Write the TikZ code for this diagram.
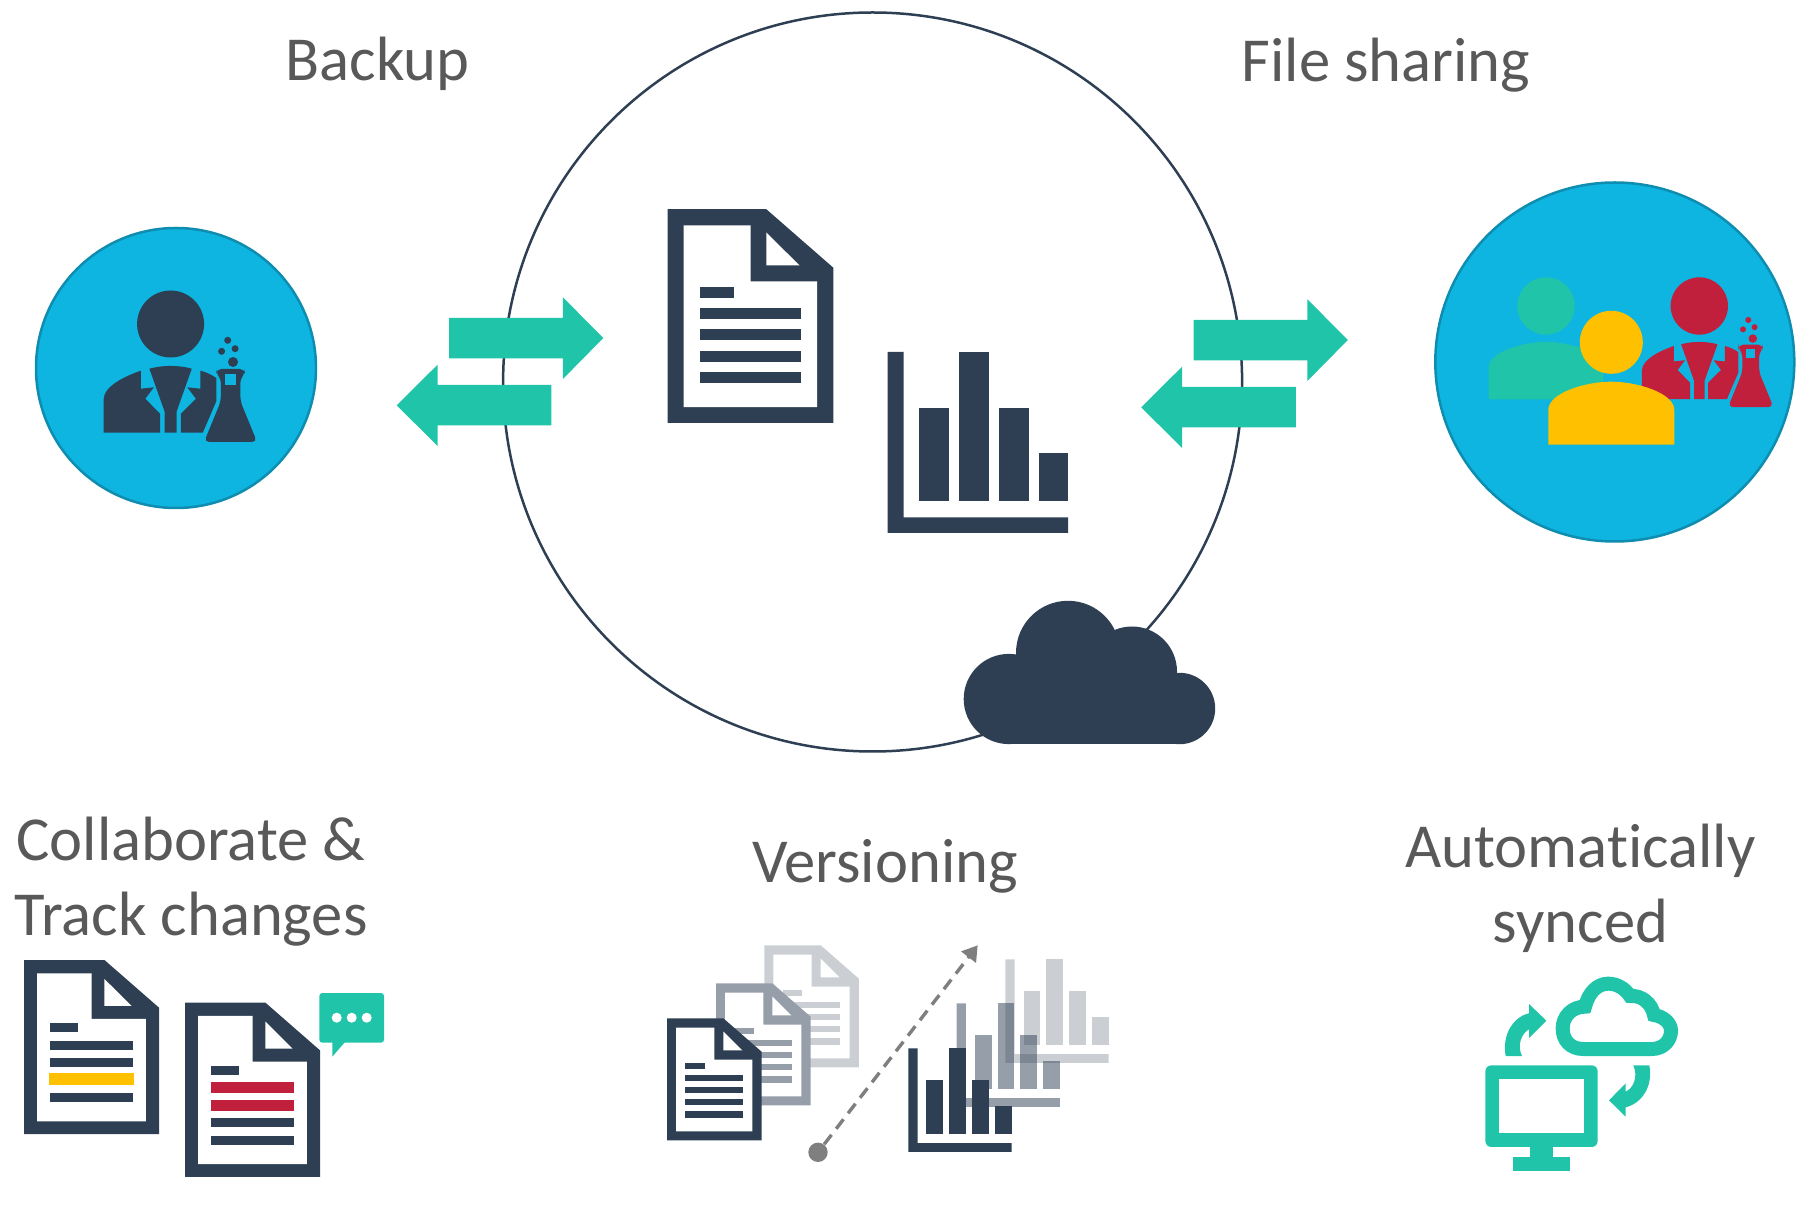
\documentclass[tikz,border=0pt]{standalone}
\usepackage{fontspec}
\setmainfont[Ligatures=NoCommon]{Carlito}
\usetikzlibrary{arrows.meta}
\definecolor{navyicon}{HTML}{2E3F53}
\definecolor{tealicon}{HTML}{20C4A8}
\definecolor{skyfill}{HTML}{0DB5E0}
\definecolor{skyline}{HTML}{0F8DB0}
\definecolor{yellowicon}{HTML}{FFC000}
\definecolor{redicon}{HTML}{C0203C}
\definecolor{textgrey}{HTML}{595959}
\definecolor{midgrey}{HTML}{969FA9}
\definecolor{lightgrey}{HTML}{CBCFD4}
\definecolor{dashgrey}{HTML}{7F7F7F}
\tikzset{
	labeltext/.style={text=textgrey,font=\fontsize{31.3}{37.6}\selectfont,inner sep=0pt,align=center},
	bluedisc/.style={fill=skyfill,draw=skyline,line width=1.25pt},
	dashline/.style={draw=dashgrey,line width=1.7pt,dash pattern=on 6pt off 3.8pt,-{Triangle[length=7.5pt,width=9pt,fill=dashgrey]}}
}
% doc page: left, top, scale, colour
\newcommand{\docicon}[4]{
	\begin{scope}[shift={(#1,#2)},scale=#3]
		\fill[#4] (0.,0.)--(98.7,0.)--(165.7,58.5)--(165.7,213.8)--(0.,213.8)--cycle;
		\fill[white] (16.,16.3)--(83.,16.3)--(83.,72.2)--(149.6,72.2)--(149.6,198.)--(16.,198.)--cycle;
		\fill[white] (98.7,23.3)--(98.7,56.3)--(132.,56.3)--cycle;
		\fill[#4] (32.,77.7) rectangle (66.8,88.5);
		\fill[#4] (32.,99.2) rectangle (133.3,110.);
		\fill[#4] (32.,120.3) rectangle (133.3,131.1);
		\fill[#4] (32.,141.7) rectangle (133.3,152.5);
		\fill[#4] (32.,163.2) rectangle (133.3,174.);
	\end{scope}
}
% bar chart: left, top, scale, opacity
\newcommand{\charticon}[4]{
	\begin{scope}[shift={(#1,#2)},scale=#3,fill opacity=#4]
		\fill[navyicon] (0.,0.)--(16.1,0.)--(16.1,165.7)--(180.5,165.7)--(180.5,181.)--(0.,181.)--cycle;
		\fill[navyicon] (31.8,56.2) rectangle (61.2,149.2);
		\fill[navyicon] (71.6,0.) rectangle (101.,149.2);
		\fill[navyicon] (111.4,56.2) rectangle (141.2,149.2);
		\fill[navyicon] (151.4,101.7) rectangle (180.5,149.2);
	\end{scope}
}
% scientist: head centre, scale, colour, background
\newcommand{\scientisticon}[5]{
	\begin{scope}[shift={(#1,#2)},scale=#3]
		\fill[#4] (0.,0.) circle [radius=33.5];
		\fill[#4] (-67.,108.7)--(-67.,75.7) .. controls (-67.,62.) and (-45.,52.) .. (-29.8,46.7)--(-29.8,64.7)--(-16.7,63.3)--(-25.3,74.7)--(-10.6,89.7)--(-10.6,108.7)--cycle;
		\fill[#4] (29.8,46.7)--(29.8,64.7)--(16.7,63.3)--(25.3,74.7)--(10.2,89.7)--(10.2,108.7)--(32.2,108.7)--(45.7,77.3)--(45.7,54.) .. controls (40.,50.) and (35.,48.) .. (29.8,46.7)--cycle;
		\fill[#4] (-21.2,44.7) .. controls (-8.,41.) and (8.,41.) .. (21.2,44.7)--(6.1,87.3)--(6.1,108.7)--(-6.1,108.7)--(-6.1,87.3)--cycle;
		\fill[#4,rounded corners=2.5pt] (33.5,118.)--(50.2,77.3)--(50.2,54.)--(45.7,49.7)--(45.7,45.)--(74.3,45.)--(74.3,49.7)--(69.8,54.)--(69.8,77.3)--(86.5,118.)--cycle;
		\fill[#5] (54.3,49.7) rectangle (64.9,60.7);
		\fill[#4] (62.4,38.) circle [radius=5.];
		\fill[#4] (51.,27.3) circle [radius=3.5];
		\fill[#4] (64.5,24.7) circle [radius=3.5];
		\fill[#4] (57.1,16.3) circle [radius=3.5];
	\end{scope}
}
% plain person: head centre, head radius, colour
\newcommand{\personicon}[4]{
	\begin{scope}[shift={(#1,#2)},scale=#3]
		\fill[#4] (0.,0.) circle [radius=1.];
		\fill[#4] (-2.,3.25)--(-2.,2.15) .. controls (-2.,1.6) and (-.8,1.25) .. (0.,1.25) .. controls (.8,1.25) and (2.,1.6) .. (2.,2.15)--(2.,3.25)--cycle;
	\end{scope}
}
% pair of arrows: shift in x, shift in y of the two
\newcommand{\arrowpair}[2]{
	\begin{scope}[shift={(#1,#2)}]
		\fill[tealicon] (449.,318.)--(562.9,318.)--(562.9,297.3)--(603.3,338.)--(562.9,379.)--(562.9,358.3)--(449.,358.3)--cycle;
		\fill[tealicon] (551.4,385.)--(437.6,385.)--(437.6,364.7)--(396.7,405.3)--(437.6,446.)--(437.6,425.3)--(551.4,425.3)--cycle;
	\end{scope}
}
\begin{document}
\begin{tikzpicture}[x=0.5pt,y=-0.5pt]
	\useasboundingbox (0.,0.) rectangle (1805.,1218.);
	% centre
	\draw[navyicon,line width=1.25pt] (872.6,382.) circle [radius=369.5];
	\docicon{667.6}{209.2}{1.}{navyicon}
	\charticon{887.6}{351.8}{1.}{1.}
	\fill[navyicon] (1008.8,699.) circle [radius=45.1];
	\fill[navyicon] (1068.,652.8) circle [radius=52.];
	\fill[navyicon] (1132.,671.5) circle [radius=45.];
	\fill[navyicon] (1179.5,708.5) circle [radius=35.7];
	\fill[navyicon] (1008.8,680.) rectangle (1179.5,744.2);
	% arrows
	\arrowpair{0.}{0.}
	\arrowpair{744.5}{2.}
	% backup
	\draw[bluedisc] (176.,368.) circle [radius=140.];
	\scientisticon{170.6}{324.}{1.}{navyicon}{skyfill}
	% file sharing
	\draw[bluedisc] (1614.8,362.) circle [radius=179.5];
	\personicon{1546.}{306.}{28.7}{tealicon}
	\scientisticon{1699.3}{306.}{.857}{redicon}{skyfill}
	\personicon{1611.3}{342.3}{31.5}{yellowicon}
	% collaborate
	\docicon{24.}{960.}{.815}{navyicon}
	\fill[yellowicon] (49.,1073.3) rectangle (134.3,1085.3);
	\docicon{185.}{1002.7}{.815}{navyicon}
	\fill[redicon] (211.,1081.7) rectangle (294.,1093.3);
	\fill[redicon] (211.,1099.7) rectangle (294.,1111.3);
	\fill[tealicon,rounded corners=1.5pt] (319.3,993.) rectangle (384.,1042.7);
	\fill[tealicon] (332.3,1042.)--(332.3,1056.7)--(345.,1042.)--cycle;
	\fill[white] (336.7,1017.7) circle [radius=5.];
	\fill[white] (351.7,1017.7) circle [radius=5.];
	\fill[white] (366.7,1017.7) circle [radius=5.];
	% versioning
	\docicon{764.3}{945.3}{.571}{lightgrey}
	\docicon{716.}{983.3}{.571}{midgrey}
	\docicon{667.}{1018.3}{.571}{navyicon}
	\charticon{1005.3}{959.3}{.572}{.25}
	\charticon{956.7}{1003.3}{.572}{.5}
	\charticon{908.3}{1048.3}{.572}{1.}
	\node (versiondot) [circle,fill=dashgrey,inner sep=0pt,minimum size=9.7pt] at (818.,1152.3) {};
	\coordinate (versiontip) at (977.7,945.3);
	\draw[dashline] (versiondot) -- (versiontip);
	% synced
	\begin{scope}[shift={(1460.,960.)},scale=.33333]
		\draw[tealicon,line width=7pt] (370.,267.) .. controls (330.,267.) and (308.,240.) .. (308.,205.) .. controls (308.,170.) and (335.,140.) .. (375.,140.) .. controls (385.,100.) and (410.,71.) .. (445.,71.) .. controls (470.,71.) and (495.,85.) .. (510.,108.) .. controls (545.,105.) and (575.,130.) .. (582.,165.) .. controls (612.,170.) and (633.,190.) .. (633.,212.) .. controls (633.,242.) and (610.,267.) .. (575.,267.)--cycle;
		\fill[tealicon] (137.,288.) .. controls (125.,225.) and (160.,170.) .. (207.,160.)--(207.,132.)--(259.,182.)--(207.,234.)--(207.,208.) .. controls (185.,220.) and (170.,255.) .. (186.,288.)--cycle;
		\fill[tealicon] (568.,316.) .. controls (580.,380.) and (545.,430.) .. (497.,442.)--(497.,470.)--(447.,421.)--(497.,370.)--(497.,395.) .. controls (520.,385.) and (535.,350.) .. (520.,316.)--cycle;
		\fill[tealicon,rounded corners=3pt] (76.,316.) rectangle (413.,561.);
		\fill[white] (118.,358.) rectangle (371.,520.);
		\fill[tealicon] (210.,555.) rectangle (280.,595.);
		\fill[tealicon] (160.,590.) rectangle (330.,632.);
	\end{scope}
	% labels
	\node (backuplabel) [labeltext,anchor=base] at (377.6,80.7) {Backup};
	\node (sharinglabel) [labeltext,anchor=base] at (1386.,81.5) {File sharing};
	\node (collablabel) [labeltext,anchor=center] at (191.,881.5) {Collaborate \&\\Track changes};
	\node (versionlabel) [labeltext,anchor=base] at (885.,883.) {Versioning};
	\node (syncedlabel) [labeltext,anchor=center] at (1580.5,888.5) {Automatically\\synced};
\end{tikzpicture}
\end{document}
